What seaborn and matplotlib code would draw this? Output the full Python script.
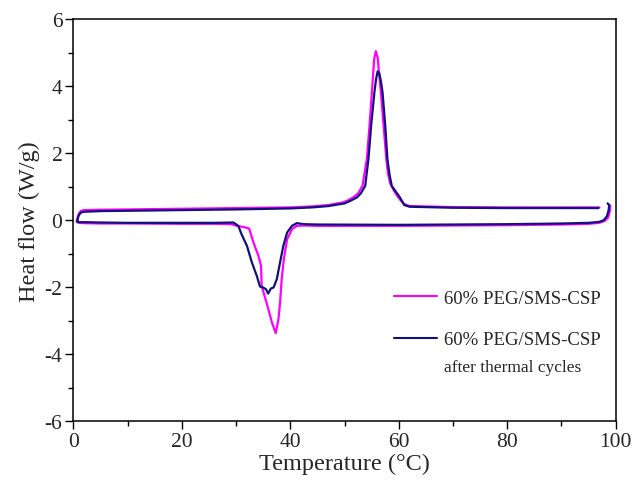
import numpy as np
import pandas as pd
import seaborn as sns
import matplotlib.pyplot as plt
from matplotlib.ticker import MultipleLocator

# 60% PEG/SMS-CSP (pink) - heating branch (endotherm, lower curve)
pink_heat_x = [0.6, 1.0, 2, 5, 10, 20, 26, 29.1, 30.1, 31.5, 32.4, 33.2, 34.1, 34.6, 34.7, 35.6, 36.6, 37.3,
               37.8, 38.1, 38.4, 38.8, 39.4, 40.3, 41.2, 42.5, 45, 60, 80, 90, 95, 97, 98.0, 98.6, 98.9,
               99.0, 98.8]
pink_heat_y = [-0.04, -0.08, -0.09, -0.1, -0.1, -0.11, -0.11, -0.12, -0.17, -0.21, -0.25, -0.67, -1.06,
               -1.36, -1.96, -2.46, -3.05, -3.37, -2.96, -2.46, -1.76, -1.16, -0.57, -0.27, -0.17, -0.16,
               -0.17, -0.17, -0.15, -0.13, -0.11, -0.08, -0.02, 0.08, 0.25, 0.42, 0.46]
# pink - cooling branch (exotherm, upper curve)
pink_cool_x = [97.0, 90, 80, 70, 62, 61, 60.5, 59.9, 59.2, 58.4, 58.0, 57.7, 57.2, 56.7, 56.4, 56.1, 55.75,
               55.45, 55.2, 54.6, 54.1, 53.3, 52.5, 51.6, 50.5, 49.7, 47, 44, 40, 30, 20, 10, 5, 2, 1.4,
               1.0, 0.8, 0.6]
pink_cool_y = [0.38, 0.38, 0.38, 0.39, 0.42, 0.48, 0.56, 0.68, 0.85, 1.1, 1.4, 1.82, 2.82, 3.81, 4.3, 4.85,
               5.04, 4.8, 4.2, 2.82, 1.82, 1.02, 0.8, 0.68, 0.58, 0.53, 0.45, 0.41, 0.38, 0.36, 0.34, 0.32,
               0.31, 0.3, 0.28, 0.2, 0.1, -0.02]

# after thermal cycles (navy)
blue_heat_x = [0.7, 1.0, 2, 5, 10, 20, 26, 29.5, 30.4, 31.0, 32.0, 32.9, 33.8, 34.4, 35.0, 35.5, 35.9, 36.4,
               36.9, 37.5, 38.1, 38.7, 39.4, 40.3, 41.2, 42.5, 45, 60, 80, 90, 95, 97, 97.8, 98.4, 98.7,
               98.8, 98.5]
blue_heat_y = [-0.02, -0.06, -0.06, -0.07, -0.08, -0.08, -0.08, -0.07, -0.17, -0.42, -0.77, -1.26, -1.66,
               -1.98, -2.01, -2.06, -2.19, -2.04, -2.01, -1.76, -1.26, -0.77, -0.37, -0.17, -0.09, -0.12,
               -0.13, -0.14, -0.12, -0.1, -0.08, -0.05, 0.0, 0.12, 0.3, 0.45, 0.5]
blue_cool_x = [96.8, 90, 80, 70, 62, 61, 60.2, 59.5, 58.7, 58.3, 57.9, 57.5, 57.0, 56.7, 56.4, 56.1, 55.8,
               55.5, 54.9, 54.4, 53.8, 53.0, 52.3, 51, 50, 47, 44, 40, 30, 20, 10, 5, 2, 1.4, 1.0, 0.8, 0.7]
blue_cool_y = [0.36, 0.36, 0.36, 0.37, 0.4, 0.45, 0.68, 0.84, 1.02, 1.35, 1.82, 2.82, 3.81, 4.15, 4.38, 4.44,
               4.2, 3.81, 2.82, 1.82, 1.02, 0.8, 0.68, 0.57, 0.5, 0.42, 0.38, 0.35, 0.32, 0.3, 0.28, 0.27,
               0.25, 0.23, 0.15, 0.05, -0.06]

pink = '#ff00ff'
navy = '#10107f'

sns.set_style('ticks')
plt.rcParams['font.family'] = ['Liberation Serif', 'DejaVu Serif']
plt.rcParams['axes.unicode_minus'] = False

fig = plt.figure(figsize=(6.35, 4.89), dpi=100)
ax = fig.add_axes([0.1157, 0.1364, 0.8539, 0.8227])

sns.lineplot(x=pink_heat_x, y=pink_heat_y, sort=False, color=pink, lw=1.6, ax=ax,
             label='60% PEG/SMS-CSP')
sns.lineplot(x=pink_cool_x, y=pink_cool_y, sort=False, color=pink, lw=1.6, ax=ax)
sns.lineplot(x=blue_heat_x, y=blue_heat_y, sort=False, color=navy, lw=1.6, ax=ax,
             label='60% PEG/SMS-CSP')
sns.lineplot(x=blue_cool_x, y=blue_cool_y, sort=False, color=navy, lw=1.6, ax=ax)

ax.set_xlim(0, 100)
ax.set_ylim(-6, 6)
ax.xaxis.set_major_locator(MultipleLocator(20))
ax.xaxis.set_minor_locator(MultipleLocator(10))
ax.yaxis.set_major_locator(MultipleLocator(2))
ax.yaxis.set_minor_locator(MultipleLocator(1))
ax.tick_params(which='major', length=6, width=1, labelsize=15.5, pad=2, direction='out', color='black')
ax.tick_params(which='minor', length=3.5, width=1, direction='out', color='black')
for s in ax.spines.values():
    s.set_linewidth(1.1)
    s.set_color('black')

ax.set_xlabel('Temperature (°C)', fontsize=17.5, labelpad=1)
ax.set_ylabel('Heat flow (W/g)', fontsize=17.5, labelpad=3)

leg = ax.legend(loc='upper left', bbox_to_anchor=(0.56, 0.369), frameon=False, fontsize=13.5,
                handlelength=2.3, labelspacing=1.3, handletextpad=0.37)
for line in leg.get_lines():
    line.set_linewidth(1.5)
ax.text(0.683, 0.135, 'after thermal cycles', transform=ax.transAxes, fontsize=12.5, va='center')

fig.savefig('out.png', dpi=100)
